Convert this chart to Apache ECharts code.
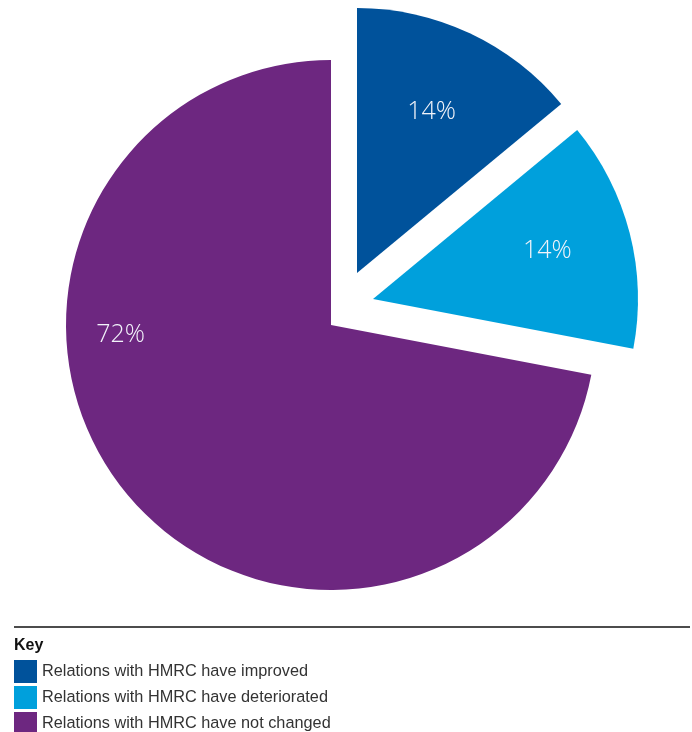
<!DOCTYPE html>
<html>
<head>
<meta charset="utf-8">
<script src="https://cdn.jsdelivr.net/npm/echarts@6/dist/echarts.min.js"></script>
<style>
  html, body { margin: 0; padding: 0; background: #ffffff; }
  #chart { width: 692px; height: 732px; }
</style>
</head>
<body>
<div id="chart"></div>
<script>
// Survey answers: how relations with HMRC have changed
const categories = [
  'Relations with HMRC have improved',
  'Relations with HMRC have deteriorated',
  'Relations with HMRC have not changed'
];
const shares = [14, 14, 72];
const sliceColors = ['#00529B', '#00A0DC', '#6D2780'];

// Pie geometry: the two smaller slices are pulled out of the pie
const pieCenter = [331, 325];
const pieRadius = 265;
const sliceShift = [[26, -52], [42, -26], [0, 0]];
// Fine placement of each value label relative to its default inside spot
const labelShift = [[17, -39], [43, -14], [-106, -76]];

const labelFont = {
  color: '#F2F4FA',
  fontSize: 25,
  fontWeight: 300,
  fontFamily: '"Open Sans", "Noto Sans", sans-serif'
};

// One pie series per slice: every series shares the same data so angles stay
// consistent, but only its own slice is painted.
const series = categories.map(function (_, idx) {
  return {
    type: 'pie',
    center: [pieCenter[0] + sliceShift[idx][0], pieCenter[1] + sliceShift[idx][1]],
    radius: pieRadius,
    startAngle: 90,
    clockwise: true,
    silent: true,
    animation: false,
    emphasis: { disabled: true },
    labelLine: { show: false },
    label: Object.assign({ position: 'inside', formatter: '{c}%' }, labelFont),
    labelLayout: { dx: labelShift[idx][0], dy: labelShift[idx][1] },
    data: categories.map(function (name, j) {
      return {
        name: name,
        value: shares[j],
        itemStyle: { color: j === idx ? sliceColors[j] : 'rgba(0,0,0,0)' },
        label: { show: j === idx }
      };
    })
  };
});

const chart = echarts.init(document.getElementById('chart'), null, { renderer: 'canvas' });
chart.setOption({
  backgroundColor: '#ffffff',
  animation: false,
  legend: {
    orient: 'vertical',
    left: 14,
    top: 660,
    width: 600,
    height: 120,
    padding: 0,
    itemWidth: 23,
    itemHeight: 23,
    itemGap: 3,
    icon: 'rect',
    selectedMode: false,
    textStyle: {
      fontSize: 16.3,
      color: '#333333',
      fontFamily: '"Liberation Sans", Arial, sans-serif',
      padding: [0, 0, 0, 0]
    },
    data: categories.map(function (name, j) {
      return { name: name, itemStyle: { color: sliceColors[j] } };
    })
  },
  graphic: [
    {
      type: 'line',
      shape: { x1: 14, y1: 627, x2: 690, y2: 627 },
      style: { stroke: '#111111', lineWidth: 1.5 }
    },
    {
      type: 'text',
      left: 14,
      top: 638,
      style: {
        text: 'Key',
        fontSize: 16,
        fontWeight: 'bold',
        fill: '#111111',
        fontFamily: '"Liberation Sans", Arial, sans-serif'
      }
    }
  ],
  series: series
});
</script>
</body>
</html>
